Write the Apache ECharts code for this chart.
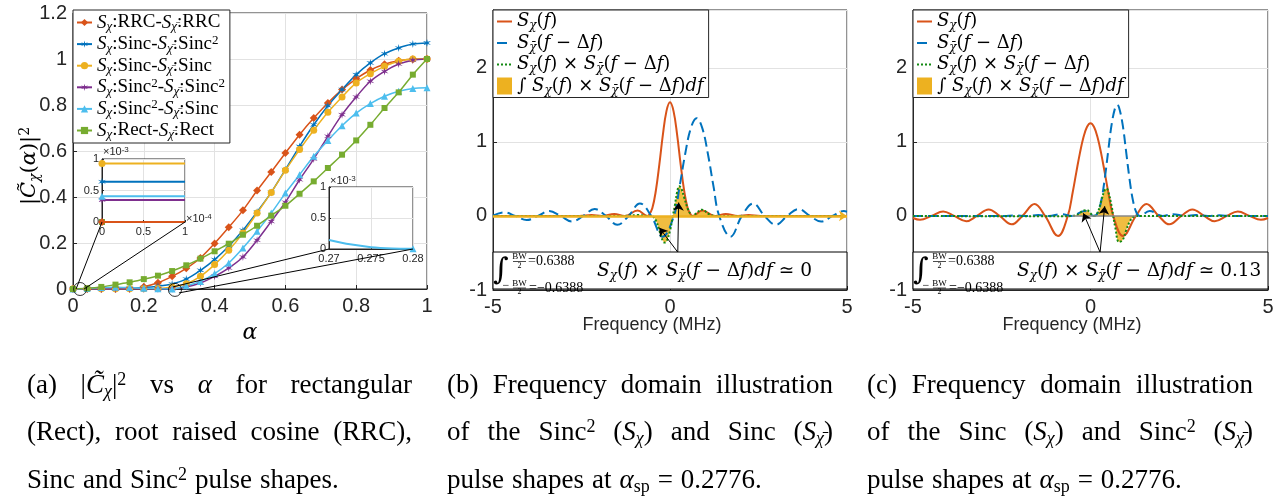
<!DOCTYPE html>
<html>
<head>
<meta charset="utf-8">
<script src="https://cdn.jsdelivr.net/npm/echarts@6/dist/echarts.min.js"></script>
<style>
html, body { margin: 0; padding: 0; background: #fff; }
#main { width: 1286px; height: 500px; }
</style>
</head>
<body>
<div id="main"></div>
<script>
// ---- data ----
const ALPHA = [0, 0.04, 0.08, 0.12, 0.16, 0.2, 0.24, 0.28, 0.32, 0.36, 0.4, 0.44, 0.48, 0.52, 0.56, 0.6, 0.64, 0.68, 0.72, 0.76, 0.8, 0.84, 0.88, 0.92, 0.96, 1];
const RRC         = [0, 0, 0, 0, 0.001, 0.01, 0.027, 0.055, 0.09, 0.135, 0.198, 0.268, 0.342, 0.428, 0.509, 0.591, 0.671, 0.743, 0.809, 0.867, 0.914, 0.952, 0.977, 0.992, 0.999, 1.0];
const SINC_SINC2  = [0.0006, 0.0006, 0.001, 0.002, 0.003, 0.006, 0.012, 0.022, 0.043, 0.081, 0.128, 0.186, 0.255, 0.335, 0.42, 0.519, 0.62, 0.714, 0.797, 0.867, 0.932, 0.983, 1.023, 1.048, 1.065, 1.07];
const SINC_SINC   = [0.0009, 0.001, 0.001, 0.001, 0.001, 0.001, 0.002, 0.009, 0.023, 0.055, 0.106, 0.168, 0.243, 0.33, 0.42, 0.516, 0.606, 0.69, 0.768, 0.835, 0.896, 0.936, 0.968, 0.99, 1.0, 1.0];
const SINC2_SINC2 = [0.0004, 0.0004, 0.0004, 0.0004, 0.0005, 0.0005, 0.0005, 0.001, 0.009, 0.026, 0.055, 0.091, 0.139, 0.212, 0.294, 0.377, 0.475, 0.565, 0.664, 0.758, 0.835, 0.903, 0.946, 0.978, 0.995, 1.0];
const SINC2_SINC  = [0.0004, 0.002, 0.006, 0.008, 0.006, 0.003, 0.001, 0.0, 0.014, 0.033, 0.067, 0.113, 0.178, 0.251, 0.33, 0.417, 0.497, 0.577, 0.646, 0.71, 0.765, 0.806, 0.838, 0.86, 0.872, 0.875];
const RECT        = [0, 0.003, 0.009, 0.019, 0.029, 0.043, 0.058, 0.078, 0.103, 0.132, 0.164, 0.197, 0.236, 0.275, 0.319, 0.362, 0.414, 0.468, 0.526, 0.584, 0.646, 0.714, 0.787, 0.855, 0.932, 1.0];

// inset 1: levels at alpha -> 0 (x1e-3), order RRC, S-S2, S-S, S2-S2, S2-S, Rect
const INSET1_LEVELS = [0, 0.64, 0.93, 0.35, 0.41, 0];
// inset 2: Sinc2-Sinc around alpha_sp (x1e-3)
const INSET2_X = [0.27, 0.2725, 0.275, 0.2775, 0.28];
const INSET2_Y = [0.145, 0.075, 0.03, 0.01, 0.005];
const ZOOM_PTS = [[0.02, 0], [0.288, -0.004]];

// panel (b)
const B_SX = [[-5,0],[-2.56,0],[-2.22,0.013],[-1.92,0],[-1.575,0.025],[-1.28,0],[-0.915,0.072],[-0.64,0],[-0.6,0.007],[-0.5,0.103],[-0.4,0.34],[-0.3,0.70],[-0.2,1.10],[-0.1,1.415],[0,1.535],[0.1,1.415],[0.2,1.10],[0.3,0.70],[0.4,0.34],[0.5,0.103],[0.6,0.007],[0.64,0],[0.915,0.072],[1.28,0],[1.575,0.025],[1.92,0],[2.22,0.013],[2.56,0],[5,0]];
const B_SXB = [[-5,0.003],[-4.69,0.049],[-4.37,0],[-4.05,-0.056],[-3.73,0],[-3.41,0.065],[-3.09,0],[-2.77,-0.076],[-2.45,0],[-2.13,0.093],[-1.81,0],[-1.49,-0.12],[-1.17,0],[-0.85,0.168],[-0.53,0],[-0.21,-0.28],[0.11,0],[0.27,0.396],[0.43,0.84],[0.59,1.188],[0.75,1.32],[0.91,1.188],[1.07,0.84],[1.23,0.396],[1.39,0],[1.71,-0.28],[2.03,0],[2.35,0.168],[2.67,0],[2.99,-0.12],[3.31,0],[3.63,0.093],[3.95,0],[4.27,-0.076],[4.59,0],[4.91,0.065],[5,0.057]];
const B_PROD = [[-5,0],[-1.28,0],[-0.915,0.012],[-0.64,0],[-0.5,-0.005],[-0.4,-0.06],[-0.3,-0.2],[-0.2,-0.34],[-0.15,-0.36],[-0.1,-0.345],[0,-0.2],[0.08,0],[0.14,0.15],[0.2,0.32],[0.26,0.4],[0.32,0.37],[0.4,0.25],[0.5,0.1],[0.6,0.01],[0.64,0],[0.75,0.04],[0.9,0.085],[1.1,0.025],[1.28,0],[5,0]];
const B_ARROWS = [[[0.22,-0.49],[-0.3,-0.16]], [[0.22,-0.49],[0.245,0.18]]];

// panel (c)
const C_SX = [[-5,-0.028],[-4.8,-0.053],[-4.48,0],[-4.15,0.061],[-3.84,0],[-3.5,-0.072],[-3.2,0],[-2.87,0.088],[-2.56,0],[-2.22,-0.114],[-1.92,0],[-1.575,0.16],[-1.28,0],[-0.915,-0.271],[-0.64,0],[-0.5,0.323],[-0.4,0.588],[-0.3,0.845],[-0.2,1.058],[-0.1,1.2],[0,1.25],[0.1,1.2],[0.2,1.058],[0.3,0.845],[0.4,0.588],[0.5,0.323],[0.64,0],[0.915,-0.271],[1.28,0],[1.575,0.16],[1.92,0],[2.22,-0.114],[2.56,0],[2.87,0.088],[3.2,0],[3.5,-0.072],[3.84,0],[4.15,0.061],[4.48,0],[4.8,-0.053],[5,-0.028]];
const C_SXB = [[-5,0],[-2.45,0],[-2.13,0.0075],[-1.81,0],[-1.47,0.012],[-1.17,0],[-0.825,0.024],[-0.53,0],[-0.165,0.068],[0.11,0],[0.2,0.039],[0.3,0.198],[0.4,0.497],[0.5,0.882],[0.6,1.25],[0.7,1.47],[0.75,1.5],[0.8,1.47],[0.9,1.25],[1.0,0.882],[1.1,0.497],[1.2,0.198],[1.3,0.039],[1.39,0],[1.665,0.068],[2.03,0],[2.325,0.024],[2.67,0],[2.97,0.012],[3.31,0],[3.63,0.0075],[3.95,0],[5,0]];
const C_PROD = [[-5,0],[-0.825,-0.006],[-0.53,0],[-0.4,0.01],[-0.3,0.039],[-0.2,0.073],[-0.1,0.077],[0,0.034],[0.1,0.001],[0.2,0.045],[0.3,0.2],[0.4,0.35],[0.45,0.37],[0.5,0.33],[0.6,0.12],[0.64,0],[0.7,-0.16],[0.8,-0.35],[0.9,-0.33],[1.0,-0.2],[1.1,-0.08],[1.2,-0.015],[1.28,0],[5,0]];
const C_ARROWS = [[[0.27,-0.49],[-0.2,0.035]], [[0.27,-0.49],[0.4,0.13]]];
const C_BASE = [[-0.5,0],[1.3,0]];

// ---- styles ----
const C_ORANGE = '#D95319', C_BLUE = '#0072BD', C_YELLOW = '#EDB120', C_PURPLE = '#7E2F8E',
      C_GREEN = '#77AC30', C_LBLUE = '#4DBEEE', C_DGREEN = '#138A13';
const AX = '#262626', GRIDC = '#e2e2e2';
const SANS = '"Liberation Sans", Arial, Helvetica, sans-serif';
const MATH = '"DejaVu Serif", serif';
const TIMES = '"Liberation Serif", "Times New Roman", serif';
const STAR = 'path://M0,-10 L1.5,-2.6 L8.66,-5 L3,0 L8.66,5 L1.5,2.6 L0,10 L-1.5,2.6 L-8.66,5 L-3,0 L-8.66,-5 L-1.5,-2.6 Z';

function makeRich(family, s, lh) {
  const ss = Math.round(s * 0.66);
  const base = { fontFamily: family, color: '#000', fill: '#000' };
  return {
    r: Object.assign({ fontSize: s, lineHeight: lh }, base),
    i: Object.assign({ fontSize: s, lineHeight: lh, fontStyle: 'italic' }, base),
    sub: Object.assign({ fontSize: ss, fontStyle: 'italic', lineHeight: Math.max(2, lh - 0.64 * s), verticalAlign: 'bottom' }, base),
    subr: Object.assign({ fontSize: ss, lineHeight: Math.max(2, lh - 0.64 * s), verticalAlign: 'bottom' }, base),
    sup: Object.assign({ fontSize: ss, lineHeight: Math.max(2, lh - 0.6 * s), verticalAlign: 'top' }, base)
  };
}
const LEGA_RICH = makeRich(TIMES, 19, 21);
const LEG_RICH = makeRich(MATH, 18, 21);
const ANN_RICH = makeRich(MATH, 18.5, 22);
const LAB_RICH = makeRich(MATH, 21, 24);
const CAP_RICH = makeRich(TIMES, 27, 30);

const LEG_TXT = {
  rrc:   '{i|S}{sub|χ}{r|:RRC-}{i|S}{sub|χ̄}{r|:RRC}',
  s_s2:  '{i|S}{sub|χ}{r|:Sinc-}{i|S}{sub|χ̄}{r|:Sinc}{sup|2}',
  s_s:   '{i|S}{sub|χ}{r|:Sinc-}{i|S}{sub|χ̄}{r|:Sinc}',
  s2_s2: '{i|S}{sub|χ}{r|:Sinc}{sup|2}{r|-}{i|S}{sub|χ̄}{r|:Sinc}{sup|2}',
  s2_s:  '{i|S}{sub|χ}{r|:Sinc}{sup|2}{r|-}{i|S}{sub|χ̄}{r|:Sinc}',
  rect:  '{i|S}{sub|χ}{r|:Rect-}{i|S}{sub|χ̄}{r|:Rect}',
  sx:    '{i|S}{sub|χ}{r|(}{i|f}{r|)}',
  sxb:   '{i|S}{sub|χ̄}{r|(}{i|f}{r| − Δ}{i|f}{r|)}',
  prod:  '{i|S}{sub|χ}{r|(}{i|f}{r|) × }{i|S}{sub|χ̄}{r|(}{i|f}{r| − Δ}{i|f}{r|)}',
  area:  '{r|∫ }{i|S}{sub|χ}{r|(}{i|f}{r|) × }{i|S}{sub|χ̄}{r|(}{i|f}{r| − Δ}{i|f}{r|)}{i|df}'
};
function legName(n) { return LEG_TXT[n.replace(/^[bc]_/, '')]; }

function ax(gridIndex, min, max, interval, fs, margin, z) {
  return {
    type: 'value', gridIndex: gridIndex, min: min, max: max, interval: interval, z: z || 0,
    axisLine: { show: true, onZero: false, lineStyle: { color: AX, width: 1 } },
    axisTick: { show: true, inside: true, length: fs > 12 ? 4 : 2, lineStyle: { color: AX } },
    axisLabel: { color: AX, fontFamily: SANS, fontSize: fs, margin: margin },
    splitLine: { show: true, lineStyle: { color: GRIDC, width: 1 } }
  };
}

const xAxis = [
  ax(0, 0, 1, 0.2, 20, 7),
  ax(1, -5, 5, 5, 20, 7),
  ax(2, -5, 5, 5, 20, 7),
  ax(3, 0, 1, 0.5, 11, 4, 6),
  ax(4, 0.27, 0.28, 0.005, 11, 4, 6)
];
const yAxis = [
  ax(0, 0, 1.2, 0.2, 20, 6),
  ax(1, -1, 2.78, 1, 20, 6),
  ax(2, -1, 2.78, 1, 20, 6),
  ax(3, 0, 1, 0.5, 11, 3, 6),
  ax(4, 0, 1, 0.5, 11, 3, 6)
];
yAxis[1].axisLabel.showMaxLabel = false;
yAxis[2].axisLabel.showMaxLabel = false;

function gridBox(left, top, width, height, z) {
  return { left: left, top: top, width: width, height: height, show: true, borderColor: AX, borderWidth: 1, backgroundColor: '#fff', z: z || 0 };
}

const A_SERIES = [
  { name: 'rrc',   data: RRC,         color: C_ORANGE, symbol: 'diamond',  size: 8 },
  { name: 's_s2',  data: SINC_SINC2,  color: C_BLUE,   symbol: STAR,       size: 8 },
  { name: 's_s',   data: SINC_SINC,   color: C_YELLOW, symbol: 'circle',   size: 7 },
  { name: 's2_s2', data: SINC2_SINC2, color: C_PURPLE, symbol: STAR,       size: 8 },
  { name: 's2_s',  data: SINC2_SINC,  color: C_LBLUE,  symbol: 'triangle', size: 7 },
  { name: 'rect',  data: RECT,        color: C_GREEN,  symbol: 'rect',     size: 6 }
];

const series = [];
A_SERIES.forEach(function (s) {
  series.push({
    name: s.name, type: 'line', xAxisIndex: 0, yAxisIndex: 0,
    data: ALPHA.map(function (a, i) { return [a, s.data[i]]; }),
    smooth: 0.3, symbol: s.symbol, symbolSize: s.size, showAllSymbol: true,
    lineStyle: { color: s.color, width: 1.5 }, itemStyle: { color: s.color }, z: 2
  });
});
// inset 1 (green first so orange lies on top)
[5, 3, 4, 1, 2, 0].forEach(function (k) {
  const s = A_SERIES[k];
  series.push({
    type: 'line', xAxisIndex: 3, yAxisIndex: 3, clip: false, z: 7,
    data: [{ value: [0, INSET1_LEVELS[k]] }, { value: [1, INSET1_LEVELS[k]], symbol: 'none' }],
    symbol: s.symbol, symbolSize: s.size,
    lineStyle: { color: s.color, width: 2 }, itemStyle: { color: s.color }
  });
});
// inset 2
series.push({
  type: 'line', xAxisIndex: 4, yAxisIndex: 4, clip: false, z: 7, smooth: 0.3,
  data: INSET2_X.map(function (x, i) {
    return i === INSET2_X.length - 1 ? { value: [x, INSET2_Y[i]], symbol: 'triangle' } : { value: [x, INSET2_Y[i]], symbol: 'none' };
  }),
  symbolSize: 7, lineStyle: { color: C_LBLUE, width: 2 }, itemStyle: { color: C_LBLUE }
});
// zoom circles
series.push({
  type: 'scatter', xAxisIndex: 0, yAxisIndex: 0, data: ZOOM_PTS, symbol: 'circle', symbolSize: 13, clip: false, z: 8,
  itemStyle: { color: 'rgba(0,0,0,0)', borderColor: '#000', borderWidth: 1 }
});

function arrowData(arr) {
  return arr.map(function (p) { return [{ coord: p[0], symbol: 'none' }, { coord: p[1], symbol: 'arrow' }]; });
}

function freqSeries(p, ax, sx, sxb, prod, arrows, extraLines) {
  const mlData = extraLines.concat(arrowData(arrows));
  return [
    { name: p + '_area', type: 'line', xAxisIndex: ax, yAxisIndex: ax, data: prod, smooth: 0.4, symbol: 'none',
      lineStyle: { width: 0 }, areaStyle: { color: C_YELLOW, opacity: 0.85 }, itemStyle: { color: C_YELLOW }, z: 1 },
    { name: p + '_sx', type: 'line', xAxisIndex: ax, yAxisIndex: ax, data: sx, smooth: 0.4, symbol: 'none',
      lineStyle: { color: C_ORANGE, width: 2 }, itemStyle: { color: C_ORANGE }, z: 2 },
    { name: p + '_sxb', type: 'line', xAxisIndex: ax, yAxisIndex: ax, data: sxb, smooth: 0.4, symbol: 'none',
      lineStyle: { color: C_BLUE, width: 2, type: [10, 5] }, itemStyle: { color: C_BLUE }, z: 2 },
    { name: p + '_prod', type: 'line', xAxisIndex: ax, yAxisIndex: ax, data: prod, smooth: 0.4, symbol: 'none',
      lineStyle: { color: C_DGREEN, width: 2, type: [2, 2] }, itemStyle: { color: C_DGREEN }, z: 3,
      markLine: { silent: true, animation: false, symbolSize: 8, label: { show: false },
        lineStyle: { color: '#000', width: 1, type: 'solid' }, data: mlData } }
  ];
}
Array.prototype.push.apply(series, freqSeries('b', 1, B_SX, B_SXB, B_PROD, B_ARROWS,
  [{ yAxis: 0, symbol: 'none', lineStyle: { color: C_YELLOW, width: 2.5, type: 'solid' } }]));
Array.prototype.push.apply(series, freqSeries('c', 2, C_SX, C_SXB, C_PROD, C_ARROWS,
  [[{ coord: C_BASE[0], symbol: 'none', lineStyle: { color: '#8a8a8a', width: 1.5 } }, { coord: C_BASE[1], symbol: 'none' }]]));

function freqLegend(p, left) {
  return {
    left: left, top: 10, orient: 'vertical', itemWidth: 15, itemHeight: 17, itemGap: 0.5,
    padding: [1, 5, 1, 3], backgroundColor: '#fff', borderColor: AX, borderWidth: 1, borderRadius: 0,
    selectedMode: false, itemStyle: { opacity: 0 },
    data: [{ name: p + '_sx' }, { name: p + '_sxb' }, { name: p + '_prod' },
           { name: p + '_area', icon: 'rect', itemStyle: { opacity: 1, color: C_YELLOW } }],
    formatter: legName,
    textStyle: { fontFamily: MATH, fontSize: 18, lineHeight: 21, color: '#000', rich: LEG_RICH }
  };
}

const option = {
  animation: false,
  backgroundColor: '#fff',
  grid: [
    gridBox(73, 13, 354, 276),
    gridBox(493, 10, 354, 280),
    gridBox(913, 10, 355, 280),
    gridBox(102, 159, 83, 63, 5),
    gridBox(329, 187, 84, 62, 5)
  ],
  xAxis: xAxis,
  yAxis: yAxis,
  legend: [
    { left: 73, top: 10, orient: 'vertical', itemWidth: 15, itemHeight: 9, itemGap: 0.6,
      padding: [2, 5, 2, 3], backgroundColor: '#fff', borderColor: AX, borderWidth: 1, borderRadius: 0,
      selectedMode: false, data: A_SERIES.map(function (s) { return s.name; }), formatter: legName,
      textStyle: { fontFamily: TIMES, fontSize: 19, lineHeight: 21, color: '#000', rich: LEGA_RICH } },
    freqLegend('b', 493),
    freqLegend('c', 913)
  ],
  series: series
};

const chart = echarts.init(document.getElementById('main'), null, { width: 1286, height: 500 });
chart.setOption(option);

// ---- annotations / captions ----
let gid = 0;
function T(x, y, text, font, extra) {
  const st = Object.assign({ text: text, fill: '#000', align: 'center', verticalAlign: 'middle' }, font);
  return Object.assign({ type: 'text', id: 'g' + (gid++), x: x, y: y, z: 100, style: st }, extra || {});
}
function L(x1, y1, x2, y2, w) {
  return { type: 'line', id: 'g' + (gid++), z: 100, shape: { x1: x1, y1: y1, x2: x2, y2: y2 }, style: { stroke: '#000', lineWidth: w || 1 } };
}
const g = [];

// axis titles
g.push(T(30, 166, '{r||}{i|C̃}{sub|χ}{r|(}{i|α}{r|)|}{sup|2}', { rich: LAB_RICH, fontFamily: MATH, fontSize: 21 }, { rotation: Math.PI / 2 }));
g.push(T(250, 333, 'α', { fontFamily: MATH, fontStyle: 'italic', fontSize: 22 }));
g.push(T(652, 325, 'Frequency (MHz)', { fontFamily: SANS, fontSize: 18, fill: AX }));
g.push(T(1072, 325, 'Frequency (MHz)', { fontFamily: SANS, fontSize: 18, fill: AX }));

// inset multipliers
const MULT_RICH = { a: { fontFamily: SANS, fontSize: 11, lineHeight: 12, fill: AX }, s: { fontFamily: SANS, fontSize: 8, lineHeight: 4, verticalAlign: 'top', fill: AX } };
g.push(T(103, 152, '{a|×10}{s|-3}', { rich: MULT_RICH, align: 'left' }));
g.push(T(186, 219, '{a|×10}{s|-4}', { rich: MULT_RICH, align: 'left' }));
g.push(T(330, 181, '{a|×10}{s|-3}', { rich: MULT_RICH, align: 'left' }));

// integral annotation boxes
function annot(x0, w, tail) {
  const out = [];
  out.push({ type: 'rect', id: 'g' + (gid++), z: 99, shape: { x: x0, y: 252, width: w, height: 37 }, style: { fill: '#fff', stroke: '#000', lineWidth: 1 } });
  out.push(T(x0 + 8, 271, '∫', { fontFamily: MATH, fontSize: 30 }));
  out.push(T(x0 + 26.5, 257, 'BW', { fontFamily: TIMES, fontSize: 9 }));
  out.push(L(x0 + 20, 261.5, x0 + 33, 261.5, 0.7));
  out.push(T(x0 + 26.5, 265.5, '2', { fontFamily: TIMES, fontSize: 8 }));
  out.push(T(x0 + 35, 261, '=0.6388', { fontFamily: TIMES, fontSize: 14, align: 'left' }));
  out.push(T(x0 + 13, 285.5, '−', { fontFamily: TIMES, fontSize: 12 }));
  out.push(T(x0 + 26.5, 283.5, 'BW', { fontFamily: TIMES, fontSize: 9 }));
  out.push(L(x0 + 20, 288, x0 + 33, 288, 0.7));
  out.push(T(x0 + 26.5, 292, '2', { fontFamily: TIMES, fontSize: 8 }));
  out.push(T(x0 + 36, 288.5, '=−0.6388', { fontFamily: TIMES, fontSize: 14, align: 'left' }));
  out.push(T(x0 + 104, 271, '{i|S}{sub|χ}{r|(}{i|f}{r|) × }{i|S}{sub|χ̄}{r|(}{i|f}{r| − Δ}{i|f}{r|)}{i|df}{r| ≃ ' + tail + '}',
    { rich: ANN_RICH, fontFamily: MATH, fontSize: 18.5, align: 'left' }));
  return out;
}
Array.prototype.push.apply(g, annot(493, 354, '0'));
Array.prototype.push.apply(g, annot(913, 355, '0.13'));

// captions (justified like the typeset original)
const mctx = document.createElement('canvas').getContext('2d');
function measureRich(str, rich) {
  let w = 0, m;
  const re = /\{(\w+)\|([^}]*)\}/g;
  while ((m = re.exec(str))) {
    const s = rich[m[1]];
    mctx.font = (s.fontStyle || 'normal') + ' ' + s.fontSize + 'px ' + s.fontFamily;
    w += mctx.measureText(m[2]).width;
  }
  return w;
}
function capLine(words, x0, x1, y, justify) {
  const ws = words.map(function (w) { return measureRich(w, CAP_RICH); });
  const total = ws.reduce(function (a, b) { return a + b; }, 0);
  const gap = justify ? (x1 - x0 - total) / (words.length - 1) : 8;
  let x = x0;
  words.forEach(function (w, i) {
    g.push(T(x, y, w, { rich: CAP_RICH, fontFamily: TIMES, fontSize: 27, align: 'left' }));
    x += ws[i] + gap;
  });
}
const CAP_Y = [386, 433, 481];
const CAPTIONS = [
  { x0: 27, x1: 412, lines: [
    ['{r|(a)}', '{r||}{i|C̃}{sub|χ}{r||}{sup|2}', '{r|vs}', '{i|α}', '{r|for}', '{r|rectangular}'],
    ['{r|(Rect),}', '{r|root}', '{r|raised}', '{r|cosine}', '{r|(RRC),}'],
    ['{r|Sinc}', '{r|and}', '{r|Sinc}{sup|2}', '{r|pulse}', '{r|shapes.}'] ] },
  { x0: 447, x1: 833, lines: [
    ['{r|(b)}', '{r|Frequency}', '{r|domain}', '{r|illustration}'],
    ['{r|of}', '{r|the}', '{r|Sinc}{sup|2}', '{r|(}{i|S}{sub|χ}{r|)}', '{r|and}', '{r|Sinc}', '{r|(}{i|S}{sub|χ̄}{r|)}'],
    ['{r|pulse}', '{r|shapes}', '{r|at}', '{i|α}{subr|sp}', '{r|=}', '{r|0.2776.}'] ] },
  { x0: 867, x1: 1253, lines: [
    ['{r|(c)}', '{r|Frequency}', '{r|domain}', '{r|illustration}'],
    ['{r|of}', '{r|the}', '{r|Sinc}', '{r|(}{i|S}{sub|χ}{r|)}', '{r|and}', '{r|Sinc}{sup|2}', '{r|(}{i|S}{sub|χ̄}{r|)}'],
    ['{r|pulse}', '{r|shapes}', '{r|at}', '{i|α}{subr|sp}', '{r|=}', '{r|0.2776.}'] ] }
];
CAPTIONS.forEach(function (c) {
  c.lines.forEach(function (words, li) { capLine(words, c.x0, c.x1, CAP_Y[li], li < 2); });
});

// zoom connector lines, placed through the axes' own scales
const c1 = chart.convertToPixel({ gridIndex: 0 }, ZOOM_PTS[0]);
const c2 = chart.convertToPixel({ gridIndex: 0 }, ZOOM_PTS[1]);
const i1a = chart.convertToPixel({ gridIndex: 3 }, [0, 0]);
const i1b = chart.convertToPixel({ gridIndex: 3 }, [1, 0]);
const i2a = chart.convertToPixel({ gridIndex: 4 }, [0.27, 0]);
const i2b = chart.convertToPixel({ gridIndex: 4 }, [0.28, 0]);
g.push(L(c1[0] - 4, c1[1], i1a[0], i1a[1]));
g.push(L(c1[0] + 4, c1[1], i1b[0], i1b[1]));
g.push(L(c2[0] - 2, c2[1] - 3, i2a[0], i2a[1]));
g.push(L(c2[0] + 4, c2[1] + 3, i2b[0], i2b[1]));

chart.setOption({ graphic: { elements: g } });
</script>
</body>
</html>
